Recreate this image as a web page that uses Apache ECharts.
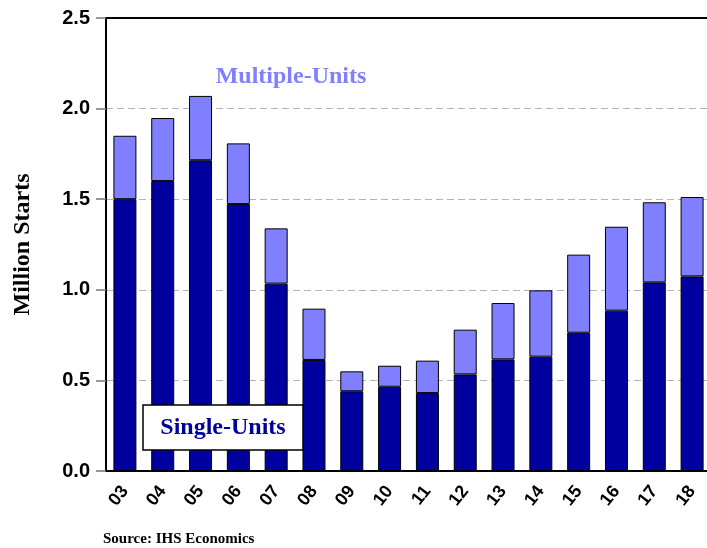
<!DOCTYPE html>
<html>
<head>
<meta charset="utf-8">
<script src="https://cdn.jsdelivr.net/npm/echarts@6/dist/echarts.min.js"></script>
<style>
  html, body { margin: 0; padding: 0; background: #fff; }
  #chart { width: 707px; height: 548px; }
</style>
</head>
<body>
<div id="chart"></div>
<script>
// Housing starts by year (million units)
const years = ['03','04','05','06','07','08','09','10','11','12','13','14','15','16','17','18'];
const singleUnits = [1.50, 1.60, 1.715, 1.473, 1.034, 0.613, 0.440, 0.465, 0.430, 0.533, 0.616, 0.631, 0.763, 0.885, 1.041, 1.074];
const multipleUnits = [0.35, 0.348, 0.355, 0.335, 0.305, 0.283, 0.110, 0.116, 0.179, 0.247, 0.311, 0.366, 0.431, 0.463, 0.442, 0.438];
const yTicks = { min: 0, max: 2.5, step: 0.5 };

const DARK = '#00009F';
const LIGHT = '#8080FF';
const serif = '"Liberation Serif", "DejaVu Serif", serif';
const sans = '"Liberation Sans", Arial, sans-serif';

const chart = echarts.init(document.getElementById('chart'));
chart.setOption({
  animation: false,
  backgroundColor: '#fff',
  grid: { left: 106, top: 18, width: 605, height: 453, containLabel: false, outerBoundsMode: 'none' },
  xAxis: [
    {
      type: 'category',
      data: years,
      position: 'bottom',
      axisLine: { lineStyle: { color: '#000', width: 2 } },
      axisTick: { show: false },
      axisLabel: {
        rotate: 52,
        margin: 17,
        color: '#000',
        fontFamily: sans,
        fontWeight: 'bold',
        fontSize: 18
      }
    },
    {
      type: 'category',
      data: years,
      position: 'top',
      axisLine: { lineStyle: { color: '#000', width: 2 } },
      axisTick: { show: false },
      axisLabel: { show: false }
    }
  ],
  yAxis: {
    type: 'value',
    min: yTicks.min,
    max: yTicks.max,
    interval: yTicks.step,
    name: 'Million Starts',
    nameLocation: 'middle',
    nameRotate: 90,
    nameGap: 71,
    nameTextStyle: { fontFamily: serif, fontWeight: 'bold', fontSize: 24, color: '#000' },
    axisLine: { show: true, lineStyle: { color: '#000', width: 2 } },
    axisTick: { show: true, inside: false, length: 10, lineStyle: { color: '#777', width: 1.5 } },
    axisLabel: {
      margin: 16,
      color: '#000',
      fontFamily: sans,
      fontWeight: 'bold',
      fontSize: 20,
      formatter: v => v.toFixed(1)
    },
    splitLine: { show: true, lineStyle: { color: '#b4b4b4', type: [7, 4], width: 1 } }
  },
  series: [
    {
      name: 'Single-Units',
      type: 'bar',
      stack: 'starts',
      barWidth: 23,
      data: singleUnits,
      itemStyle: { color: DARK, borderColor: '#000', borderWidth: 1 }
    },
    {
      name: 'Multiple-Units',
      type: 'bar',
      stack: 'starts',
      barWidth: 23,
      data: multipleUnits,
      itemStyle: { color: LIGHT, borderColor: '#000', borderWidth: 1 }
    }
  ],
  graphic: [
    {
      type: 'rect',
      shape: { x: 143, y: 405, width: 160, height: 45 },
      style: { fill: '#fff', stroke: '#000', lineWidth: 1.5 },
      z: 100
    },
    {
      type: 'text',
      x: 223, y: 428,
      style: {
        text: 'Single-Units', fill: DARK,
        font: 'bold 24px ' + serif,
        align: 'center', verticalAlign: 'middle'
      },
      z: 101
    },
    {
      type: 'text',
      x: 291, y: 77,
      style: {
        text: 'Multiple-Units', fill: LIGHT,
        font: 'bold 24px ' + serif,
        align: 'center', verticalAlign: 'middle'
      },
      z: 101
    },
    {
      type: 'text',
      x: 103, y: 539,
      style: {
        text: 'Source: IHS Economics', fill: '#000',
        font: 'bold 15px ' + serif,
        align: 'left', verticalAlign: 'middle'
      },
      z: 101
    }
  ]
});
</script>
</body>
</html>
